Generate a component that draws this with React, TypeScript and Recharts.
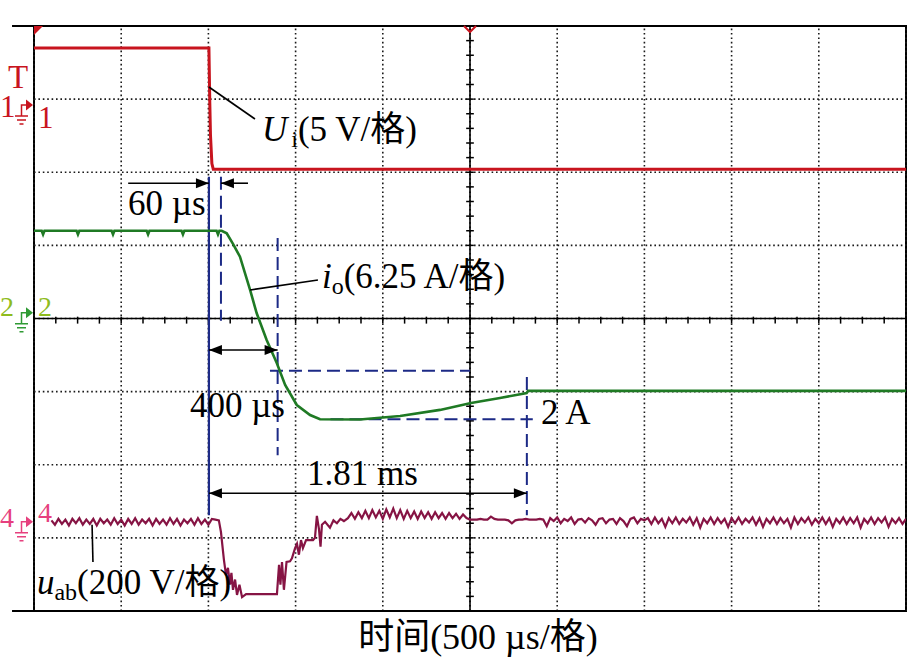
import React from 'react';
import {
  LineChart,
  Line,
  XAxis,
  YAxis,
  ReferenceLine,
  ReferenceArea,
  ReferenceDot,
} from 'recharts';

const FONT = "'Liberation Serif', 'Times New Roman', 'Noto Sans CJK SC', serif";

// x: time across the screen in µs (10 div × 500 µs/div); y: screen divisions (0 = centre line)
const timeTicks = [0, 500, 1000, 1500, 2000, 2500, 3000, 3500, 4000, 4500, 5000];
const divTicks = [-4, -3, -2, -1, 0, 1, 2, 3, 4];

// Channel 1: Ui (5 V/div)
const uiTime = [0, 1003, 1008, 1012, 1020, 1028, 5000];
const uiValue = [3.7, 3.7, 2.95, 2.5, 2.12, 2.04, 2.04];

// Channel 2: io (6.25 A/div)
const ioTime = [
  0, 44, 52, 60, 244, 252, 260, 445, 453, 461, 646, 654, 662, 846, 854, 862, 1047, 1055, 1063,
  1076, 1105, 1141, 1181, 1239, 1277, 1334, 1392, 1440, 1507, 1583, 1640, 1869, 2099, 2328,
  2506, 2672, 2825, 2833, 5000,
];
const ioValue = [
  1.2, 1.2, 1.15, 1.2, 1.2, 1.15, 1.2, 1.2, 1.15, 1.2, 1.2, 1.15, 1.2, 1.2, 1.15, 1.2, 1.2, 1.15, 1.2,
  1.2, 1.165, 1.02, 0.845, 0.39, 0.071, -0.294, -0.609, -0.909, -1.183, -1.32, -1.378, -1.381, -1.333,
  -1.25, -1.156, -1.087, -1.019, -0.99, -0.99,
];

// Channel 4: uab (200 V/div), sampled every 20 µs in the steady parts
const uabStep = 20;
const uabPreStart = 100;
const uabPre = [
  -2.76, -2.82, -2.74, -2.81, -2.75, -2.83, -2.74, -2.8, -2.73, -2.82,
  -2.75, -2.81, -2.74, -2.83, -2.74, -2.8, -2.75, -2.82, -2.73, -2.81,
  -2.75, -2.83, -2.74, -2.81, -2.73, -2.82, -2.75, -2.8, -2.74, -2.83,
  -2.74, -2.81, -2.75, -2.82, -2.73, -2.81, -2.74, -2.83, -2.75, -2.8,
  -2.74, -2.82, -2.73, -2.81, -2.75, -2.82, -2.74, -2.75, -2.76,
];
const uabDipTime = [
  1072, 1089, 1101, 1112, 1124, 1132, 1141, 1153, 1164, 1178, 1193, 1216, 1239, 1393, 1405, 1413,
  1422, 1433, 1448, 1468, 1479, 1497, 1508, 1519, 1531, 1542, 1560, 1600, 1611, 1622, 1634, 1643,
  1651, 1669, 1697, 1717, 1737, 1757, 1777,
];
const uabDipValue = [
  -2.92, -3.3, -3.51, -3.41, -3.64, -3.48, -3.71, -3.57, -3.78, -3.64, -3.81, -3.77, -3.77, -3.77, -3.37, -3.64,
  -3.33, -3.71, -3.33, -3.32, -3.28, -3.14, -3.08, -3.23, -3.03, -3.14, -3.03, -3.03, -3.0, -2.7, -2.88, -3.12,
  -2.82, -2.78, -2.86, -2.76, -2.8, -2.74, -2.77,
];
const uabOverStart = 1800;
const uabOver = [
  -2.73, -2.66, -2.74, -2.65, -2.73, -2.63, -2.73, -2.62, -2.72, -2.63,
  -2.74, -2.61, -2.72, -2.6, -2.73, -2.62, -2.74, -2.63, -2.73, -2.64,
  -2.74, -2.64, -2.73, -2.65, -2.74, -2.65, -2.73, -2.66, -2.74, -2.66,
  -2.73, -2.67, -2.74, -2.68, -2.73, -2.75,
];
const uabPostStart = 2520;
const uabPost = [
  -2.75, -2.75, -2.74, -2.75, -2.75, -2.71, -2.74, -2.75, -2.75, -2.75,
  -2.76, -2.8, -2.76, -2.75, -2.75, -2.74, -2.75, -2.75, -2.75, -2.74,
  -2.75, -2.84, -2.73, -2.77, -2.72,
  -2.8, -2.74, -2.77, -2.72, -2.81, -2.75, -2.74, -2.79, -2.73, -2.76,
  -2.82, -2.74, -2.73, -2.8, -2.75, -2.74, -2.81, -2.73, -2.77, -2.84,
  -2.74, -2.72, -2.8, -2.74, -2.76,
  -2.73, -2.81, -2.72, -2.8, -2.74, -2.85, -2.73, -2.8, -2.72, -2.81,
  -2.74, -2.79, -2.72, -2.82, -2.73, -2.86, -2.74, -2.8, -2.72, -2.81,
  -2.73, -2.8, -2.74, -2.85, -2.73,
  -2.8, -2.72, -2.81, -2.74, -2.79, -2.72, -2.82, -2.73, -2.85, -2.74,
  -2.8, -2.72, -2.81, -2.73, -2.8, -2.74, -2.86, -2.72, -2.81, -2.73,
  -2.79, -2.72, -2.82, -2.74, -2.8,
  -2.72, -2.81, -2.73, -2.85, -2.74, -2.8, -2.72, -2.81, -2.73, -2.8,
  -2.72, -2.86, -2.74, -2.8, -2.72, -2.81, -2.73, -2.79, -2.72, -2.85,
  -2.74, -2.8, -2.73, -2.81, -2.74,
];

// Minor graticule ticks on the centre cross
const hMinorTicks = Array.from({ length: 41 }, (_, i) => i * 125);
const vMinorTicks = Array.from({ length: 41 }, (_, i) => -4 + i * 0.2);

const pairs = (ts: number[], vs: number[]) => ts.map((t, i) => ({ t, v: vs[i] }));
const sampled = (start: number, vs: number[]) => vs.map((v, i) => ({ t: start + i * uabStep, v }));

const uiData = pairs(uiTime, uiValue);
const ioData = pairs(ioTime, ioValue);
const uabData = [
  ...sampled(uabPreStart, uabPre),
  ...pairs(uabDipTime, uabDipValue),
  ...sampled(uabOverStart, uabOver),
  ...sampled(uabPostStart, uabPost),
];

const RED = '#c8141e';
const GREEN = '#1f7a24';
const MAROON = '#861444';
const BLUE = '#1c2a86';
const TXT = 35;
const SUB = 24;

const arrowShape = (head1: boolean, head2: boolean) => (props: any) => {
  const x1 = Number(props.x1), y1 = Number(props.y1), x2 = Number(props.x2), y2 = Number(props.y2);
  const dx = x2 - x1, dy = y2 - y1;
  const len = Math.hypot(dx, dy) || 1;
  const ux = dx / len, uy = dy / len;
  const L = 13, W = 5;
  const head = (px: number, py: number, sx: number, sy: number) => {
    const bx = px - sx * L, by = py - sy * L;
    return `M${px} ${py} L${bx - sy * W} ${by + sx * W} L${bx + sy * W} ${by - sx * W} Z`;
  };
  return (
    <g>
      <line x1={x1} y1={y1} x2={x2} y2={y2} stroke="#000" strokeWidth={1.6} />
      {head1 && <path d={head(x1, y1, -ux, -uy)} fill="#000" />}
      {head2 && <path d={head(x2, y2, ux, uy)} fill="#000" />}
    </g>
  );
};

const textShape =
  (content: React.ReactNode, size: number, color = '#000', anchor: 'start' | 'middle' | 'end' = 'start') =>
  (props: any) => (
    <text x={props.cx} y={props.cy} fontSize={size} fontFamily={FONT} fill={color} textAnchor={anchor}>
      {content}
    </text>
  );

const channelMarker =
  (label: string, labelColor: string, markColor: string, leftDy: number, rightDy: number, size: number) =>
  (props: any) => {
    const cx = props.cx, cy = props.cy;
    return (
      <g>
        <text x={cx - 34} y={cy + leftDy} fontSize={size} fontFamily={FONT} fill={labelColor}>
          {label}
        </text>
        <path d={`M${cx - 12.5} ${cy + 11} V${cy} H${cx - 8}`} stroke={markColor} strokeWidth={1.5} fill="none" />
        <path d={`M${cx - 8} ${cy - 5.5} L${cx - 1} ${cy} L${cx - 8} ${cy + 5.5} Z`} fill={markColor} />
        <path
          d={`M${cx - 19} ${cy + 11} H${cx - 6} M${cx - 17} ${cy + 15} H${cx - 8} M${cx - 14.5} ${cy + 19} H${cx - 10.5}`}
          stroke={markColor}
          strokeWidth={1.5}
        />
        <text x={cx + 4} y={cy + rightDy} fontSize={size} fontFamily={FONT} fill={labelColor}>
          {label}
        </text>
      </g>
    );
  };

const GRID = { stroke: '#1a1a1a', strokeWidth: 1.6, strokeDasharray: '1.6 2.8' };
const DASH = { stroke: BLUE, strokeWidth: 2, strokeDasharray: '13 6' };

export default function App() {
  return (
    <div style={{ width: 908, height: 657, background: '#fff' }}>
      <style>{'body{margin:0;background:#fff}'}</style>
      <LineChart width={908} height={657} margin={{ top: 26, right: 2, bottom: 0, left: 34 }}>
        <XAxis
          type="number"
          dataKey="t"
          domain={[0, 5000]}
          ticks={timeTicks}
          tick={false}
          tickLine={false}
          axisLine={false}
          height={46}
          allowDataOverflow
          label={{
            value: '时间(500 µs/格)',
            position: 'insideBottom',
            offset: 8,
            dx: 8,
            style: { fontSize: 36, fill: '#000', fontFamily: FONT },
          }}
        />
        <YAxis
          type="number"
          domain={[-4, 4]}
          ticks={divTicks}
          tick={false}
          tickLine={false}
          axisLine={false}
          width={0}
          allowDataOverflow
        />

        {/* dotted graticule */}
        {timeTicks.map((t) => (
          <ReferenceLine key={'gx' + t} x={t} {...GRID} />
        ))}
        {divTicks.map((v) => (
          <ReferenceLine key={'gy' + v} y={v} {...GRID} />
        ))}

        {/* frame */}
        <ReferenceArea x1={0} x2={5000} y1={-4} y2={4} fill="none" stroke="#000" strokeWidth={2} />
        <ReferenceLine segment={[{ x: -126, y: 4 }, { x: 5000, y: 4 }]} stroke="#000" strokeWidth={2} ifOverflow="visible" />
        <ReferenceLine segment={[{ x: -126, y: -4 }, { x: 5000, y: -4 }]} stroke="#000" strokeWidth={2} ifOverflow="visible" />

        {/* centre cross with minor ticks */}
        <ReferenceLine x={2500} stroke="#000" strokeWidth={1.6} />
        <ReferenceLine y={0} stroke="#000" strokeWidth={1.6} />
        {hMinorTicks.map((t) => (
          <ReferenceLine key={'h' + t} segment={[{ x: t, y: 0.025 }, { x: t, y: -0.07 }]} stroke="#000" strokeWidth={1.5} />
        ))}
        {vMinorTicks.map((v, i) => (
          <ReferenceLine key={'v' + i} segment={[{ x: 2478, y: v }, { x: 2522, y: v }]} stroke="#000" strokeWidth={1.5} />
        ))}

        {/* blue cursor lines */}
        <ReferenceLine segment={[{ x: 1003, y: 1.94 }, { x: 1003, y: -2.69 }]} stroke={BLUE} strokeWidth={2.2} />
        <ReferenceLine segment={[{ x: 1072, y: 1.94 }, { x: 1072, y: -0.03 }]} {...DASH} />
        <ReferenceLine segment={[{ x: 1397, y: 1.1 }, { x: 1397, y: -1.87 }]} {...DASH} />
        <ReferenceLine segment={[{ x: 1353, y: -0.714 }, { x: 2500, y: -0.714 }]} {...DASH} />
        <ReferenceLine segment={[{ x: 1700, y: -1.378 }, { x: 2860, y: -1.378 }]} {...DASH} />
        <ReferenceLine segment={[{ x: 2826, y: -0.8 }, { x: 2826, y: -2.69 }]} {...DASH} />

        {/* traces */}
        <Line data={uabData} dataKey="v" type="linear" stroke={MAROON} strokeWidth={2.2} dot={false} isAnimationActive={false} />
        <Line data={ioData} dataKey="v" type="linear" stroke={GREEN} strokeWidth={2.6} dot={false} isAnimationActive={false} />
        <Line data={uiData} dataKey="v" type="linear" stroke={RED} strokeWidth={3} dot={false} isAnimationActive={false} />

        {/* measurement arrows */}
        <ReferenceLine segment={[{ x: 540, y: 1.85 }, { x: 1003, y: 1.85 }]} shape={arrowShape(false, true)} />
        <ReferenceLine segment={[{ x: 1227, y: 1.85 }, { x: 1072, y: 1.85 }]} shape={arrowShape(false, true)} />
        <ReferenceLine segment={[{ x: 1003, y: -0.43 }, { x: 1397, y: -0.43 }]} shape={arrowShape(true, true)} />
        <ReferenceLine segment={[{ x: 1003, y: -2.39 }, { x: 2826, y: -2.39 }]} shape={arrowShape(true, true)} />

        {/* callout leaders */}
        <ReferenceLine segment={[{ x: 1003, y: 3.166 }, { x: 1267, y: 2.728 }]} stroke="#000" strokeWidth={1.6} />
        <ReferenceLine segment={[{ x: 1239, y: 0.39 }, { x: 1628, y: 0.526 }]} stroke="#000" strokeWidth={1.6} />
        <ReferenceLine segment={[{ x: 333, y: -2.82 }, { x: 338, y: -3.33 }]} stroke="#000" strokeWidth={1.6} />

        {/* texts */}
        <ReferenceDot
          x={1307}
          y={2.43}
          ifOverflow="visible"
          shape={textShape(
            <>
              <tspan fontStyle="italic">U</tspan>
              <tspan fontSize={SUB} dx={4} dy={6}>i</tspan>
              <tspan dy={-6}>(5 V/格)</tspan>
            </>,
            TXT,
          )}
        />
        <ReferenceDot x={539} y={1.415} ifOverflow="visible" shape={textShape('60 µs', TXT)} />
        <ReferenceDot
          x={1651}
          y={0.417}
          ifOverflow="visible"
          shape={textShape(
            <>
              <tspan fontStyle="italic">i</tspan>
              <tspan fontSize={SUB} dy={6}>o</tspan>
              <tspan dy={-6}>(6.25 A/格)</tspan>
            </>,
            TXT,
          )}
        />
        <ReferenceDot x={894} y={-1.347} ifOverflow="visible" shape={textShape('400 µs', TXT)} />
        <ReferenceDot x={2907} y={-1.443} ifOverflow="visible" shape={textShape('2 A', TXT)} />
        <ReferenceDot x={1565} y={-2.277} ifOverflow="visible" shape={textShape('1.81 ms', TXT)} />
        <ReferenceDot
          x={17}
          y={-3.77}
          ifOverflow="visible"
          shape={textShape(
            <>
              <tspan fontStyle="italic">u</tspan>
              <tspan fontSize={SUB} dy={6}>ab</tspan>
              <tspan dy={-6}>(200 V/格)</tspan>
            </>,
            TXT,
          )}
        />

        {/* channel markers */}
        <ReferenceDot
          x={0}
          y={4}
          ifOverflow="visible"
          shape={(p: any) => <path d={`M${p.cx} ${p.cy} L${p.cx + 9} ${p.cy} L${p.cx} ${p.cy + 9} Z`} fill={RED} />}
        />
        <ReferenceDot
          x={2500}
          y={4}
          ifOverflow="visible"
          shape={(p: any) => (
            <path d={`M${p.cx - 6} ${p.cy} L${p.cx} ${p.cy + 6} L${p.cx + 6} ${p.cy}`} stroke={RED} strokeWidth={2} fill="none" />
          )}
        />
        <ReferenceDot
          x={0}
          y={2.92}
          ifOverflow="visible"
          shape={(p: any) => (
            <g>
              <text x={p.cx - 26} y={p.cy - 17} fontSize={33} fontFamily={FONT} fill={RED}>
                T
              </text>
              {channelMarker('1', RED, RED, 12, 23, 31)(p)}
            </g>
          )}
        />
        <ReferenceDot x={0} y={0.08} ifOverflow="visible" shape={channelMarker('2', '#8fbc1e', '#2f9a34', 3, 3, 28)} />
        <ReferenceDot x={0} y={-2.78} ifOverflow="visible" shape={channelMarker('4', '#e6407e', '#e6407e', 5, 0, 28)} />
      </LineChart>
    </div>
  );
}
